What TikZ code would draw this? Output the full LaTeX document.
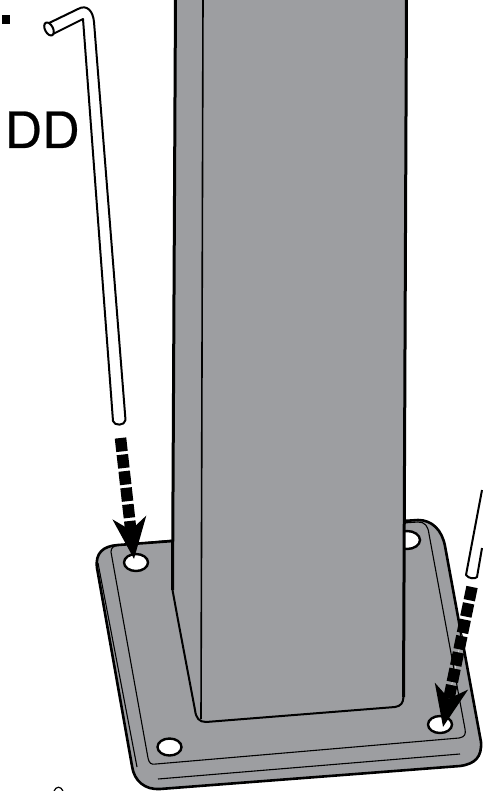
\documentclass[tikz,border=0pt]{standalone}
\usepackage{fontspec}
\setmainfont{TeX Gyre Heros}
\newfontfamily\labelfont[FakeBold=0.5,FakeStretch=1.04]{TeX Gyre Heros}
\usepackage{tikz}
\usetikzlibrary{arrows.meta,positioning,shapes.geometric}
\definecolor{postgrey}{RGB}{157,158,161}

\tikzset{
    outline/.style={draw=black, line width=2.6pt, line join=round},
    thinline/.style={draw=black, line width=1.1pt},
    holeedge/.style={draw=black, line width=2.4pt, fill=white, ellipse, inner sep=0pt},
    dropline/.style={line width=11.5pt, dash pattern=on 13.5pt off 3.2pt, -{Stealth[length=41pt,width=33pt,inset=12pt]},
        preaction={draw=white, solid, -, shorten >=30pt}},
}

\begin{document}
\begin{tikzpicture}[x=1pt,y=-1pt]
    \useasboundingbox (0,0) rectangle (482,791);

    % plate
    \path[outline, fill=postgrey] (173,541) -- (118,545)
        .. controls (103,546) and (95,553) .. (97,568)
        -- (132,766) .. controls (134,781) and (145,790) .. (160,789)
        -- (460,766) .. controls (475,764) and (482,757) .. (481,742)
        -- (445,546)
        .. controls (442,530) and (432,520) .. (418,520) -- (403,521);
    \path[thinline] (173,540) -- (119,545) .. controls (113,546) and (111,548) .. (111,552)
        -- (148,758) .. controls (149,763) and (151,765) .. (156,764)
        -- (459,738) .. controls (465,737) and (466,734) .. (465,729)
        -- (429,534) .. controls (428,526) and (425,522) .. (418,522) -- (403,523);
    \path[thinline] (98,563) -- (137,767);
    \path[thinline] (158,779) -- (460,754);

    % holes
    \node[holeedge, minimum width=24pt, minimum height=17pt] (holeA) at (136,562.5) {};
    \node[holeedge, minimum width=24pt, minimum height=17pt] (holeB) at (169.5,747) {};
    \node[holeedge, minimum width=24pt, minimum height=17pt] (holeC) at (440,724.5) {};
    \node[holeedge, minimum width=26pt, minimum height=18pt] (holeD) at (407,540) {};

    % post
    \path[fill=postgrey] (175.5,-2) -- (172.5,590) -- (178,620) -- (195,710)
        .. controls (196,718) and (199,722) .. (206,722) -- (395,707)
        .. controls (401,706) and (404,703) .. (404,697) -- (406.5,-2) -- cycle;
    \draw[line width=3pt] (175.5,-2) -- (172.5,590);
    \draw[line width=2pt] (172.5,590) -- (178,620) -- (195,710)
        .. controls (196,718) and (199,722) .. (206,722) -- (395,707)
        .. controls (401,706) and (403,703) .. (403.5,697);
    \draw[line width=3pt] (403.5,697) -- (406.5,-2);
    \draw[line width=1.6pt] (203,-2) -- (201,719);

    % hex keys
    \coordinate (keyA) at (120.5,438);
    \coordinate (keyB) at (472,587);
    \coordinate (tipA) at (134,559);
    \coordinate (tipB) at (443,727);
    \path[outline, fill=white, line width=2pt] (47,24) -- (78,9)
        .. controls (87,4) and (93,11) .. (94,22)
        -- (125.5,420) .. controls (125,426) and (114,426) .. (113,421)
        -- (83,19) -- (51,35);
    \draw[line width=2pt, fill=white, rotate around={27:(49,29)}] (49,29) ellipse (4pt and 7pt);
    \path[outline, fill=white, line width=2pt] (482,490) -- (466,575)
        .. controls (469,579) and (475,579) .. (477,577) -- (482,548);

    % arrows
    \draw[dropline] (keyA) -- (tipA);
    \draw[dropline] (keyB) -- (tipB);

    % labels
    \node[font=\labelfont\fontsize{50}{50}\selectfont, inner sep=0pt, anchor=base west] (labelDD) at (4.5,148) {DD};
    \node[fill=black, minimum width=8.5pt, minimum height=9pt, inner sep=0pt] (dotmark) at (5.8,19.5) {};
    \draw[line width=1.2pt] (54,791) .. controls (56,786) and (61,786) .. (63,791);
\end{tikzpicture}
\end{document}
